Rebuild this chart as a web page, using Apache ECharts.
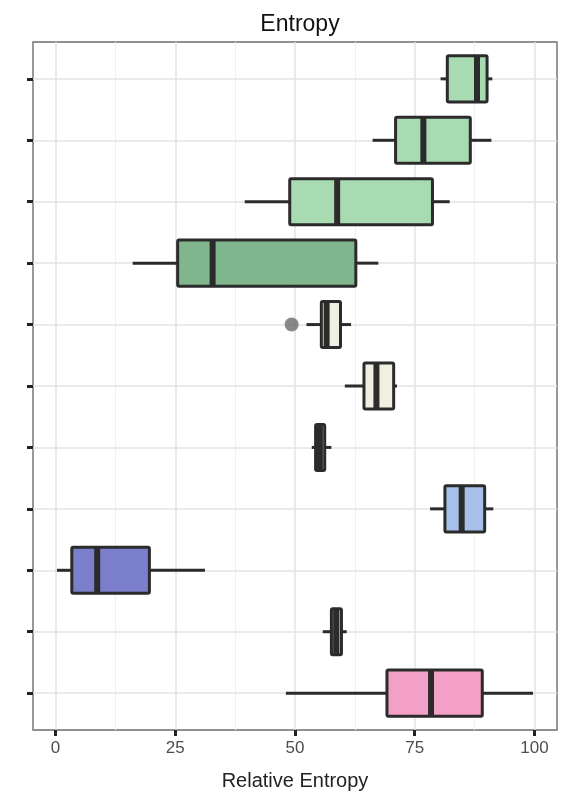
<!DOCTYPE html>
<html>
<head>
<meta charset="utf-8">
<script src="https://cdn.jsdelivr.net/npm/echarts@6/dist/echarts.min.js"></script>
<style>
  html, body { margin: 0; padding: 0; background: #fff; }
  #chart { width: 569px; height: 798px; }
</style>
</head>
<body>
<div id="chart"></div>
<script>
// rows from top to bottom (no labels shown on the y axis)
var rows = [0, 1, 2, 3, 4, 5, 6, 7, 8, 9, 10];
var whiskerLow  = [80.4, 66.2, 39.5, 16.1, 52.4, 60.4, 53.5, 78.2, 0.3, 55.8, 48.1];
var q1          = [81.8, 71.0, 48.9, 25.5, 55.5, 64.4, 54.3, 81.3, 3.4, 57.6, 69.2];
var median      = [88.0, 76.8, 58.8, 32.8, 56.6, 67.0, 55.2, 84.8, 8.7, 58.6, 78.4];
var q3          = [90.1, 86.6, 78.7, 62.7, 59.5, 70.6, 56.2, 89.6, 19.6, 59.7, 89.1];
var whiskerHigh = [91.2, 91.0, 82.3, 67.4, 61.7, 71.3, 57.6, 91.4, 31.2, 60.8, 99.7];
var fills = ["#a8dbb1", "#a8dbb1", "#a8dbb1", "#80b68e", "#f1efe1", "#f1efe1", "#f1efe1",
             "#a6c0ea", "#7b7ecb", "#c9a3c4", "#f3a0c8"];
// outliers: [value, row]
var outliers = [[49.3, 4]];
var xTicks = [0, 25, 50, 75, 100];
var xMinor = [12.5, 37.5, 62.5, 87.5];

var boxData = rows.map(function (r, i) {
  return [r, whiskerLow[i], q1[i], median[i], q3[i], whiskerHigh[i]];
});

var chart = echarts.init(document.getElementById("chart"));

function renderBox(params, api) {
  var y = api.value(0);
  var lo = api.coord([api.value(1), y]);
  var b1 = api.coord([api.value(2), y]);
  var md = api.coord([api.value(3), y]);
  var b3 = api.coord([api.value(4), y]);
  var hi = api.coord([api.value(5), y]);
  var h = api.size([0, 0.75])[1];
  var cy = md[1];
  var dark = "#2b2b2b";
  return {
    type: "group",
    children: [
      { type: "line", shape: { x1: lo[0], y1: cy, x2: b1[0], y2: cy },
        style: { stroke: dark, lineWidth: 3 } },
      { type: "line", shape: { x1: b3[0], y1: cy, x2: hi[0], y2: cy },
        style: { stroke: dark, lineWidth: 3 } },
      { type: "rect", shape: { x: b1[0], y: cy - h / 2, width: b3[0] - b1[0], height: h, r: 1.5 },
        style: { fill: fills[params.dataIndex], stroke: dark, lineWidth: 3 } },
      { type: "line", shape: { x1: md[0], y1: cy - h / 2, x2: md[0], y2: cy + h / 2 },
        style: { stroke: dark, lineWidth: 6 } }
    ]
  };
}

var option = {
  animation: false,
  textStyle: { fontFamily: "Liberation Sans, Arial, sans-serif" },
  title: {
    text: "Entropy",
    left: 295,
    textAlign: "center",
    top: 8,
    textStyle: { fontSize: 23, fontWeight: "normal", color: "#111" }
  },
  grid: {
    left: 33, right: 12, top: 42, bottom: 68,
    show: true, borderColor: "#6e6e6e", borderWidth: 1.4, backgroundColor: "#fff"
  },
  xAxis: {
    type: "value",
    min: -4.7,
    max: 104.7,
    name: "Relative Entropy",
    nameLocation: "middle",
    nameGap: 41,
    nameTextStyle: { fontSize: 20, color: "#222" },
    axisLine: { show: false, onZero: false },
    axisTick: { show: true, customValues: xTicks, length: 6, lineStyle: { color: "#222", width: 3 } },
    axisLabel: { customValues: xTicks, fontSize: 17, color: "#4d4d4d", margin: 10 },
    splitLine: { show: false }
  },
  yAxis: {
    type: "value",
    inverse: true,
    min: -0.6,
    max: 10.6,
    axisLine: { show: false, onZero: false },
    axisTick: { show: true, customValues: rows, length: 6, lineStyle: { color: "#222", width: 3 } },
    axisLabel: { show: false },
    splitLine: { show: false }
  },
  series: [
    {
      type: "line",
      data: [],
      z: 1,
      markLine: {
        silent: true,
        symbol: "none",
        z: 1,
        label: { show: false },
        animation: false,
        data: []
          .concat(xMinor.map(function (v) { return { xAxis: v, lineStyle: { color: "#f0f0f0", width: 1, type: "solid" } }; }))
          .concat(xTicks.map(function (v) { return { xAxis: v, lineStyle: { color: "#e3e3e3", width: 1.5, type: "solid" } }; }))
          .concat(rows.map(function (v) { return { yAxis: v, lineStyle: { color: "#e3e3e3", width: 1.5, type: "solid" } }; }))
      }
    },
    {
      type: "custom",
      z: 10,
      renderItem: renderBox,
      encode: { x: [1, 2, 3, 4, 5], y: 0 },
      data: boxData
    },
    {
      type: "scatter",
      z: 11,
      symbolSize: 14,
      itemStyle: { color: "#6b6b6b" },
      data: outliers
    }
  ]
};
chart.setOption(option);
</script>
</body>
</html>
